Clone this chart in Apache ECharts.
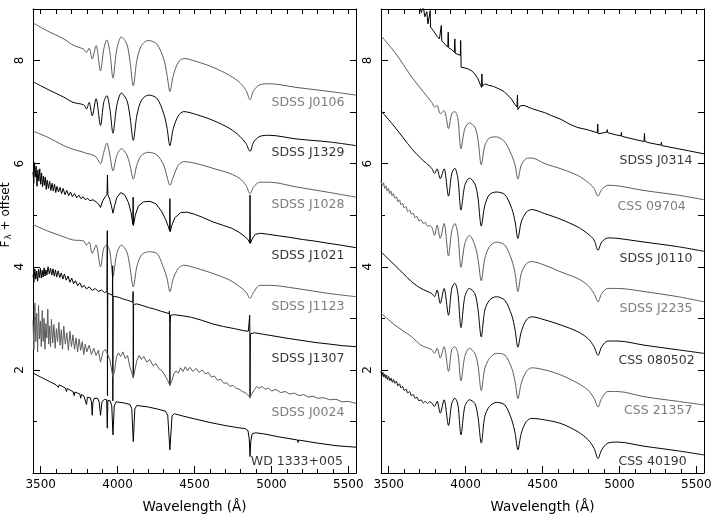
<!DOCTYPE html>
<html>
<head>
<meta charset="utf-8">
<script src="https://cdn.jsdelivr.net/npm/echarts@6/dist/echarts.min.js"></script>
<style>
html, body { margin: 0; padding: 0; background: #fff; }
#chart { width: 712px; height: 518px; }
</style>
</head>
<body>
<div id="chart"></div>
<script>
// wavelength grid shared by the smooth DA spectra (Angstrom)
const waveGrid = [3450, 3540, 3650, 3710, 3780, 3798, 3815, 3835, 3860, 3889,
  3910, 3930, 3950, 3970, 3995, 4025, 4060, 4080, 4102, 4125,
  4155, 4200, 4255, 4300, 4322, 4340, 4362, 4395, 4430, 4515,
  4620, 4730, 4795, 4835, 4861, 4885, 4925, 4990, 5160, 5380, 5550];

// left panel
const fJ0106 = [8.73, 8.58, 8.42, 8.30, 8.22, 8.16, 8.24, 8.03, 8.29, 7.80,
  8.22, 8.40, 8.16, 7.66, 8.22, 8.46, 8.32, 8.00, 7.51, 8.00,
  8.29, 8.39, 8.32, 8.03, 7.71, 7.40, 7.71, 7.97, 8.04, 7.98,
  7.87, 7.71, 7.57, 7.42, 7.24, 7.42, 7.53, 7.55, 7.48, 7.40, 7.33];
const fJ1329 = [7.59, 7.45, 7.29, 7.19, 7.14, 7.06, 7.19, 6.93, 7.26, 6.74,
  7.19, 7.32, 7.06, 6.59, 7.13, 7.37, 7.23, 6.93, 6.45, 6.93,
  7.23, 7.33, 7.27, 6.97, 6.68, 6.35, 6.68, 6.93, 7.01, 6.95,
  6.84, 6.68, 6.53, 6.39, 6.24, 6.42, 6.53, 6.55, 6.48, 6.42, 6.35];
const fJ1028 = [6.63, 6.52, 6.35, 6.28, 6.22, 6.20, 6.19, 6.17, 6.13, 6.00,
  6.22, 6.40, 6.16, 5.86, 6.16, 6.29, 6.17, 5.98, 5.70, 5.97,
  6.16, 6.22, 6.17, 5.97, 5.74, 5.58, 5.74, 5.97, 6.04, 6.00,
  5.91, 5.81, 5.71, 5.58, 5.42, 5.55, 5.64, 5.64, 5.55, 5.44, 5.35];
const fJ1123 = [4.82, 4.70, 4.58, 4.52, 4.50, 4.42, 4.48, 4.26, 4.42, 4.00,
  4.36, 4.42, 4.29, 3.81, 4.26, 4.42, 4.29, 4.00, 3.61, 4.00,
  4.23, 4.29, 4.26, 3.97, 3.77, 3.52, 3.77, 3.97, 4.03, 3.97,
  3.87, 3.74, 3.61, 3.51, 3.39, 3.51, 3.64, 3.64, 3.58, 3.48, 3.42];
const j1021 = [[3450,5.84],[3455,5.62],[3460,6.02],[3465,5.74],[3470,5.95],[3476,5.56],[3482,5.88],[3488,5.66],
  [3494,5.90],[3500,5.60],[3506,5.82],[3512,5.55],[3518,5.76],[3524,5.58],[3530,5.74],[3536,5.50],[3542,5.68],
  [3550,5.52],[3558,5.66],[3566,5.48],[3574,5.62],[3582,5.47],[3590,5.60],[3598,5.44],[3606,5.56],[3616,5.45],
  [3626,5.54],[3636,5.42],[3646,5.52],[3658,5.40],[3670,5.48],[3682,5.38],[3694,5.45],[3706,5.36],[3720,5.42],
  [3734,5.34],[3748,5.39],[3762,5.32],[3776,5.36],[3790,5.30],[3805,5.33],[3820,5.28],[3840,5.30],[3860,5.26],
  [3875,5.22],[3889,5.15],[3903,5.28],[3920,5.36],[3931,5.40],[3934,5.78],[3937,5.40],[3950,5.30],[3960,5.18],
  [3970,5.04],[3980,5.18],[3995,5.34],[4020,5.44],[4045,5.40],[4070,5.25],[4088,5.05],[4099,4.82],[4101,5.35],
  [4103,4.80],[4115,5.00],[4135,5.18],[4170,5.26],[4210,5.27],[4250,5.22],[4285,5.08],[4312,4.92],[4330,4.78],
  [4338,4.70],[4340,5.32],[4342,4.68],[4352,4.80],[4372,4.95],[4410,5.05],[4450,5.06],[4500,5.02],[4560,4.95],
  [4620,4.87],[4690,4.80],[4740,4.75],[4790,4.67],[4830,4.58],[4850,4.52],[4859,4.46],[4861,5.39],[4863,4.45],
  [4875,4.54],[4895,4.63],[4930,4.65],[4980,4.63],[5050,4.60],[5120,4.57],[5200,4.53],[5280,4.50],[5360,4.46],
  [5450,4.42],[5550,4.37]];
const j1307 = [[3450,3.84],[3456,3.70],[3462,3.96],[3468,3.76],[3474,3.92],[3480,3.72],[3486,3.95],[3492,3.79],
  [3498,3.97],[3504,3.78],[3510,3.93],[3516,3.80],[3522,3.98],[3528,3.82],[3534,3.94],[3540,3.84],[3548,4.00],
  [3556,3.86],[3564,3.97],[3572,3.84],[3580,3.96],[3588,3.82],[3596,3.94],[3604,3.80],[3614,3.92],[3624,3.79],
  [3634,3.88],[3644,3.76],[3654,3.86],[3666,3.74],[3678,3.82],[3690,3.70],[3702,3.78],[3714,3.67],[3726,3.73],
  [3740,3.63],[3754,3.69],[3768,3.60],[3782,3.64],[3798,3.57],[3815,3.61],[3835,3.54],[3855,3.58],[3875,3.52],
  [3895,3.55],[3915,3.50],[3931,3.52],[3933,4.70],[3934,1.50],[3936,3.49],[3950,3.47],[3966,3.45],[3968,4.02],
  [3969,1.40],[3971,3.43],[3990,3.42],[4015,3.40],[4040,3.37],[4065,3.35],[4085,3.33],[4099,3.31],[4101,3.52],
  [4102,1.86],[4104,3.27],[4125,3.28],[4160,3.25],[4200,3.21],[4240,3.18],[4280,3.14],[4315,3.11],[4335,3.09],
  [4337,3.14],[4339,2.90],[4340,1.70],[4342,2.88],[4344,3.06],[4370,3.07],[4420,3.05],[4480,3.02],[4550,2.96],
  [4620,2.89],[4690,2.84],[4760,2.80],[4820,2.76],[4850,2.75],[4857,2.78],[4859,3.06],[4860,2.68],[4861,1.46],
  [4863,2.70],[4866,2.73],[4890,2.72],[4950,2.69],[5030,2.65],[5110,2.61],[5200,2.57],[5290,2.53],[5380,2.50],
  [5460,2.47],[5550,2.45]];
const j0024 = [[3450,2.95],[3456,2.40],[3462,3.30],[3468,2.55],[3474,3.10],[3480,2.35],[3486,3.25],[3492,2.60],
  [3498,2.95],[3504,2.45],[3510,3.15],[3516,2.55],[3522,3.00],[3528,2.40],[3534,2.90],[3540,2.62],[3546,3.18],
  [3552,2.50],[3558,2.85],[3564,2.45],[3570,2.98],[3578,2.52],[3586,2.88],[3594,2.42],[3602,2.80],[3610,2.55],
  [3618,2.92],[3626,2.48],[3634,2.78],[3642,2.40],[3650,2.85],[3660,2.50],[3670,2.72],[3680,2.38],[3690,2.75],
  [3700,2.45],[3710,2.68],[3720,2.40],[3730,2.62],[3740,2.35],[3750,2.60],[3760,2.38],[3770,2.55],[3780,2.30],
  [3790,2.50],[3800,2.35],[3815,2.48],[3830,2.30],[3845,2.42],[3860,2.28],[3875,2.38],[3889,2.15],[3905,2.35],
  [3920,2.40],[3935,2.30],[3950,2.20],[3962,1.98],[3970,1.86],[3980,1.97],[3992,2.25],[4005,2.33],[4020,2.26],
  [4035,2.35],[4050,2.22],[4065,2.28],[4080,2.06],[4095,1.92],[4102,1.84],[4110,1.96],[4125,2.18],[4140,2.28],
  [4155,2.20],[4170,2.26],[4190,2.15],[4210,2.20],[4230,2.08],[4250,2.12],[4270,2.02],[4290,1.98],[4310,1.88],
  [4325,1.80],[4340,1.70],[4352,1.78],[4365,1.92],[4380,1.98],[4395,1.94],[4410,2.04],[4425,1.97],[4440,2.06],
  [4455,1.98],[4470,2.05],[4490,1.97],[4510,2.03],[4530,1.95],[4550,2.00],[4570,1.92],[4590,1.95],[4610,1.86],
  [4630,1.88],[4650,1.80],[4670,1.82],[4690,1.74],[4710,1.75],[4730,1.68],[4750,1.70],[4770,1.64],[4790,1.63],
  [4810,1.58],[4830,1.56],[4845,1.52],[4861,1.47],[4875,1.54],[4890,1.62],[4905,1.68],[4920,1.64],[4940,1.68],
  [4960,1.62],[4980,1.65],[5000,1.59],[5030,1.62],[5060,1.56],[5090,1.58],[5120,1.53],[5150,1.55],[5180,1.50],
  [5210,1.52],[5240,1.47],[5270,1.49],[5300,1.45],[5340,1.46],[5380,1.42],[5420,1.43],[5460,1.38],[5500,1.39],
  [5550,1.35]];
const wd1333 = [[3450,1.94],[3475,1.90],[3500,1.86],[3520,1.83],[3540,1.80],[3560,1.77],[3580,1.74],[3600,1.71],
  [3615,1.66],[3620,1.71],[3640,1.68],[3660,1.65],[3668,1.58],[3672,1.64],[3690,1.61],[3710,1.58],[3718,1.50],
  [3722,1.57],[3740,1.55],[3755,1.53],[3760,1.45],[3765,1.52],[3780,1.50],[3792,1.47],[3798,1.33],[3804,1.47],
  [3822,1.46],[3830,1.38],[3835,1.12],[3840,1.38],[3848,1.45],[3870,1.45],[3880,1.38],[3889,1.12],[3898,1.38],
  [3915,1.43],[3929,1.42],[3933,0.87],[3937,1.41],[3952,1.40],[3962,1.30],[3970,0.74],[3978,1.30],[3990,1.38],
  [4040,1.36],[4080,1.33],[4092,1.25],[4102,0.61],[4112,1.24],[4125,1.31],[4200,1.28],[4260,1.24],[4310,1.20],
  [4326,1.12],[4340,0.45],[4354,1.11],[4370,1.15],[4430,1.10],[4500,1.05],[4600,0.98],[4700,0.92],[4780,0.88],
  [4830,0.86],[4848,0.82],[4856,0.66],[4861,0.32],[4866,0.62],[4875,0.76],[4895,0.78],[4950,0.76],[5050,0.70],
  [5170,0.64],[5173,0.59],[5176,0.64],[5300,0.58],[5420,0.53],[5550,0.50]];

// right panel
const j0314 = [[3450,11.2],[3550,10.3],[3620,9.7],[3680,9.25],[3700,9.10],[3712,8.93],[3725,9.05],[3735,8.85],
  [3748,8.95],[3755,8.71],[3770,8.97],[3772,8.65],[3790,8.58],[3799,8.55],[3815,8.47],[3830,8.42],[3840,8.39],
  [3842,8.68],[3845,8.38],[3865,8.32],[3884,8.26],[3887,8.55],[3890,8.25],[3910,8.21],[3927,8.16],[3930,8.42],
  [3933,8.14],[3950,8.12],[3966,8.10],[3968,8.39],[3971,7.87],[3990,7.86],[4015,7.84],[4040,7.80],[4060,7.74],
  [4080,7.65],[4095,7.54],[4104,7.48],[4106,7.74],[4109,7.50],[4125,7.55],[4150,7.52],[4180,7.50],[4210,7.46],
  [4250,7.40],[4297,7.26],[4320,7.15],[4334,7.10],[4337,7.33],[4340,7.05],[4355,7.12],[4380,7.13],[4430,7.07],
  [4480,7.02],[4515,6.99],[4560,6.93],[4620,6.86],[4680,6.76],[4730,6.70],[4790,6.66],[4856,6.60],[4859,6.77],
  [4862,6.58],[4900,6.60],[4918,6.61],[4921,6.66],[4924,6.60],[4990,6.55],[5010,6.54],[5013,6.61],[5016,6.53],
  [5100,6.47],[5160,6.43],[5163,6.59],[5166,6.43],[5200,6.40],[5270,6.36],[5273,6.42],[5276,6.35],[5380,6.29],
  [5450,6.25],[5550,6.19]];
const fC09704 = [8.48, 8.16, 7.68, 7.45, 7.19, 7.10, 7.13, 6.97, 7.03, 6.68,
  6.97, 7.01, 6.87, 6.29, 6.68, 6.79, 6.71, 6.48, 5.98, 6.35,
  6.50, 6.52, 6.42, 6.16, 5.97, 5.70, 5.97, 6.10, 6.11, 6.00,
  5.90, 5.77, 5.64, 5.52, 5.37, 5.50, 5.58, 5.57, 5.48, 5.39, 5.30];
const fJ0110 = [7.03, 6.71, 6.29, 6.10, 5.91, 5.81, 5.90, 5.71, 5.90, 5.37,
  5.81, 5.91, 5.71, 5.10, 5.58, 5.72, 5.61, 5.35, 4.79, 5.19,
  5.40, 5.45, 5.40, 5.13, 4.87, 4.55, 4.87, 5.06, 5.11, 5.03,
  4.92, 4.77, 4.64, 4.52, 4.32, 4.48, 4.56, 4.55, 4.48, 4.39, 4.30];
const blueJ2235 = [[3450,5.66],[3458,5.58],[3466,5.63],[3474,5.52],[3482,5.57],[3490,5.47],[3498,5.52],[3506,5.42],
  [3514,5.47],[3522,5.38],[3530,5.42],[3540,5.33],[3550,5.36],[3560,5.26],[3570,5.30],[3580,5.20],[3590,5.23],
  [3600,5.14],[3612,5.17],[3624,5.07],[3636,5.10],[3648,5.02],[3660,5.04],[3672,4.95],[3684,4.98],[3696,4.89],
  [3710,4.91],[3724,4.84],[3738,4.86],[3752,4.79],[3766,4.80]];
const fJ2235 = [5.64, 5.35, 5.06, 4.88, 4.77, 4.61, 4.81, 4.55, 4.84, 4.21,
  4.70, 4.84, 4.62, 3.99, 4.45, 4.61, 4.42, 4.16, 3.73, 4.16,
  4.39, 4.48, 4.42, 4.13, 3.87, 3.52, 3.87, 4.06, 4.10, 4.03,
  3.90, 3.77, 3.64, 3.48, 3.32, 3.48, 3.58, 3.58, 3.52, 3.42, 3.32];
const fC080502 = [4.29, 4.03, 3.71, 3.58, 3.48, 3.42, 3.55, 3.29, 3.58, 3.06,
  3.58, 3.68, 3.48, 2.82, 3.42, 3.58, 3.48, 3.19, 2.64, 3.16,
  3.35, 3.42, 3.35, 3.06, 2.77, 2.44, 2.74, 2.97, 3.03, 2.97,
  2.87, 2.74, 2.61, 2.45, 2.28, 2.45, 2.56, 2.56, 2.48, 2.39, 2.32];
const fC21357 = [3.10, 2.87, 2.64, 2.48, 2.39, 2.32, 2.42, 2.23, 2.45, 1.97,
  2.39, 2.45, 2.32, 1.79, 2.26, 2.42, 2.32, 2.10, 1.60, 2.03,
  2.22, 2.32, 2.29, 2.03, 1.77, 1.44, 1.74, 1.97, 2.04, 2.00,
  1.90, 1.74, 1.61, 1.45, 1.28, 1.45, 1.58, 1.58, 1.48, 1.39, 1.32];
const blue40190 = [[3450,1.98],[3456,1.89],[3462,1.95],[3468,1.86],[3474,1.92],[3480,1.84],[3486,1.90],[3492,1.81],
  [3500,1.87],[3508,1.79],[3516,1.84],[3524,1.76],[3532,1.81],[3540,1.74],[3550,1.78],[3560,1.69],[3570,1.73],
  [3580,1.65],[3590,1.68],[3600,1.60],[3612,1.63],[3624,1.55],[3636,1.58],[3648,1.50],[3660,1.52],[3672,1.45],
  [3684,1.47],[3696,1.40],[3710,1.42],[3724,1.36],[3738,1.39],[3752,1.35],[3766,1.38]];
const fC40190 = [1.94, 1.77, 1.52, 1.39, 1.36, 1.29, 1.39, 1.16, 1.42, 0.92,
  1.35, 1.45, 1.32, 0.74, 1.29, 1.42, 1.35, 1.10, 0.58, 1.10,
  1.29, 1.37, 1.32, 1.03, 0.77, 0.45, 0.77, 1.00, 1.06, 1.03,
  0.96, 0.80, 0.65, 0.48, 0.28, 0.45, 0.58, 0.60, 0.52, 0.43, 0.35];

// object names and where their labels end (wavelength, flux)
const leftNames = ['SDSS J0106', 'SDSS J1329', 'SDSS J1028', 'SDSS J1021', 'SDSS J1123', 'SDSS J1307', 'SDSS J0024', 'WD 1333+005'];
const leftLabelX = [5478, 5478, 5478, 5478, 5478, 5478, 5478, 5468];
const leftLabelY = [7.19, 6.22, 5.21, 4.21, 3.22, 2.21, 1.17, 0.22];
const rightNames = ['SDSS J0314', 'CSS 09704', 'SDSS J0110', 'SDSS J2235', 'CSS 080502', 'CSS 21357', 'CSS 40190'];
const rightLabelX = [5478, 5435, 5478, 5478, 5493, 5478, 5441];
const rightLabelY = [6.05, 5.16, 4.16, 3.18, 2.17, 1.21, 0.21];

// ticks
const xMajorTicks = [3500, 4000, 4500, 5000, 5500];
const xMinorTicks = [3500, 3600, 3700, 3800, 3900, 4000, 4100, 4200, 4300, 4400, 4500,
  4600, 4700, 4800, 4900, 5000, 5100, 5200, 5300, 5400, 5500];
const yMajorTicks = [2, 4, 6, 8];
const yMinorTicks = [1, 3, 5, 7];
const yAllTicks = [1, 2, 3, 4, 5, 6, 7, 8];

var FONT = 'DejaVu Sans';
var BLACK = '#000000';
var GREY = '#5c5c5c';

function onGrid(flux) {
    return waveGrid.map(function (w, i) { return [w, flux[i]]; });
}
function joinBlue(blue, flux) {
    var last = blue[blue.length - 1][0];
    return blue.concat(onGrid(flux).filter(function (p) { return p[0] > last; }));
}
function plain(v) { return String(v); }

function makeXAxes(g) {
    var base = { gridIndex: g, type: 'value', min: 3450, max: 5550, splitLine: { show: false } };
    return [
        Object.assign({}, base, {
            position: 'bottom',
            axisLine: { show: true, onZero: false, lineStyle: { color: BLACK, width: 1 } },
            axisTick: { show: true, inside: true, length: 7, customValues: xMajorTicks, lineStyle: { color: BLACK } },
            axisLabel: { show: true, customValues: xMajorTicks, formatter: plain, margin: 6, color: BLACK, fontSize: 12, fontFamily: FONT },
            name: 'Wavelength (Å)', nameLocation: 'middle', nameGap: 27,
            nameTextStyle: { color: BLACK, fontSize: 13.5, fontFamily: FONT }
        }),
        Object.assign({}, base, {
            position: 'bottom',
            axisLine: { show: false, onZero: false },
            axisTick: { show: true, inside: true, length: 4, customValues: xMinorTicks, lineStyle: { color: BLACK } },
            axisLabel: { show: false }
        }),
        Object.assign({}, base, {
            position: 'top',
            axisLine: { show: true, onZero: false, lineStyle: { color: BLACK, width: 1 } },
            axisTick: { show: true, inside: true, length: 5, customValues: xMinorTicks, lineStyle: { color: BLACK } },
            axisLabel: { show: false }
        })
    ];
}

function makeYAxes(g) {
    var base = { gridIndex: g, type: 'value', min: 0, max: 9, splitLine: { show: false } };
    return [
        Object.assign({}, base, {
            position: 'left',
            axisLine: { show: true, onZero: false, lineStyle: { color: BLACK, width: 1 } },
            axisTick: { show: true, inside: true, length: 7, customValues: yMajorTicks, lineStyle: { color: BLACK } },
            axisLabel: { show: true, customValues: yMajorTicks, formatter: plain, rotate: 90, margin: 7, color: BLACK, fontSize: 12, fontFamily: FONT }
        }),
        Object.assign({}, base, {
            position: 'left',
            axisLine: { show: false, onZero: false },
            axisTick: { show: true, inside: true, length: 4, customValues: yMinorTicks, lineStyle: { color: BLACK } },
            axisLabel: { show: false }
        }),
        Object.assign({}, base, {
            position: 'right',
            axisLine: { show: true, onZero: false, lineStyle: { color: BLACK, width: 1 } },
            axisTick: { show: true, inside: true, length: 6, customValues: yAllTicks, lineStyle: { color: BLACK } },
            axisLabel: { show: false }
        })
    ];
}

function spectrum(data, color, axisIdx, smooth) {
    return {
        type: 'line', data: data, xAxisIndex: axisIdx, yAxisIndex: axisIdx,
        showSymbol: false, symbol: 'none', smooth: smooth ? 0.3 : false, clip: true,
        silent: true, animation: false,
        lineStyle: { color: color, width: 1 }
    };
}

function nameLabels(names, xs, ys, colors, axisIdx) {
    return {
        type: 'scatter', xAxisIndex: axisIdx, yAxisIndex: axisIdx, silent: true, animation: false,
        symbolSize: 1, itemStyle: { color: 'rgba(255,255,255,0)' },
        label: { show: true, position: 'left', distance: 0, formatter: '{b}', fontSize: 12.5, fontFamily: FONT },
        labelLayout: { hideOverlap: false },
        data: names.map(function (n, i) {
            return { name: n, value: [xs[i], ys[i]], label: { color: colors[i] } };
        })
    };
}

var leftColors = [GREY, BLACK, GREY, BLACK, GREY, BLACK, GREY, BLACK];
var rightColors = [BLACK, GREY, BLACK, GREY, BLACK, GREY, BLACK];

var series = [
    spectrum(onGrid(fJ0106), GREY, 0, true),
    spectrum(onGrid(fJ1329), BLACK, 0, true),
    spectrum(onGrid(fJ1028), GREY, 0, true),
    spectrum(j1021, BLACK, 0, false),
    spectrum(onGrid(fJ1123), GREY, 0, true),
    spectrum(j1307, BLACK, 0, false),
    spectrum(j0024, GREY, 0, false),
    spectrum(wd1333, BLACK, 0, false),
    nameLabels(leftNames, leftLabelX, leftLabelY, leftColors, 0),

    spectrum(j0314, BLACK, 3, false),
    spectrum(onGrid(fC09704), GREY, 3, true),
    spectrum(onGrid(fJ0110), BLACK, 3, true),
    spectrum(joinBlue(blueJ2235, fJ2235), GREY, 3, true),
    spectrum(onGrid(fC080502), BLACK, 3, true),
    spectrum(onGrid(fC21357), GREY, 3, true),
    spectrum(joinBlue(blue40190, fC40190), BLACK, 3, true),
    nameLabels(rightNames, rightLabelX, rightLabelY, rightColors, 3)
];

var myChart = echarts.init(document.getElementById('chart'), null, { renderer: 'canvas' });
myChart.setOption({
    animation: false,
    backgroundColor: '#ffffff',
    grid: [
        { left: 33, right: 356, top: 9, bottom: 45, containLabel: false, outerBoundsMode: 'none' },
        { left: 381, right: 8, top: 9, bottom: 45, containLabel: false, outerBoundsMode: 'none' }
    ],
    xAxis: makeXAxes(0).concat(makeXAxes(1)),
    yAxis: makeYAxes(0).concat(makeYAxes(1)),
    graphic: [{
        type: 'text', x: 6, y: 215, rotation: Math.PI / 2, silent: true,
        style: {
            text: '{a|F}{s|λ}{a| + offset}',
            align: 'center', verticalAlign: 'middle',
            rich: {
                a: { fontSize: 12, fontFamily: FONT, fill: BLACK },
                s: { fontSize: 9, fontFamily: FONT, fill: BLACK, padding: [6, 0, 0, 1] }
            }
        }
    }],
    series: series
});
</script>
</body>
</html>
